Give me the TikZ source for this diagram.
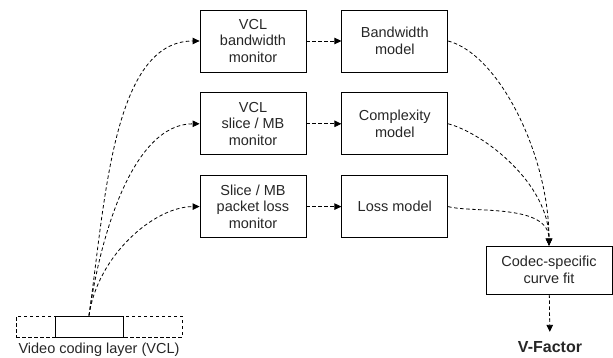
\documentclass[tikz,border=0pt]{standalone}
\usepackage{fontspec}
\setmainfont{Liberation Sans}
\usetikzlibrary{arrows.meta,positioning}

\begin{document}
\begin{tikzpicture}[
  x=1pt, y=1pt,
  node distance=20pt and 35pt,
  box/.style={draw, line width=0.8pt, align=center, minimum width=106pt, minimum height=62pt, inner sep=0pt, font=\fontsize{14.5}{16.5}\selectfont, text=black!85},
  flow/.style={dashed, dash pattern=on 3.5pt off 2.5pt, line width=0.8pt, -{Triangle[length=7pt,width=6.5pt]}},
  up/.style={out=82, in=180, in looseness=0.75},
  down/.style={out=-15, in=90, out looseness=0.6}
]
\useasboundingbox (0,0) rectangle (613,-358);

% monitors and models
\node[box] (bwmon) at (253,-41) {VCL\\bandwidth\\monitor};
\node[box, below=of bwmon] (mbmon) {VCL\\slice / MB\\monitor};
\node[box, below=of mbmon] (lossmon) {Slice / MB\\packet loss\\monitor};
\node[box, right=of bwmon] (bwmod) {Bandwidth\\model};
\node[box, right=of mbmon] (cxmod) {Complexity\\model};
\node[box, right=of lossmon] (lossmod) {Loss model};
\node[box, minimum width=126pt, minimum height=48pt] (fit) at (549,-270) {Codec-specific\\curve fit};
\node[font=\fontsize{16}{18}\selectfont\bfseries, text=black!85] (vf) at (550,-347) {V-Factor};

% video coding layer
\node[draw, dashed, dash pattern=on 3.5pt off 2.5pt, line width=0.8pt, minimum width=166pt, minimum height=21pt, inner sep=0pt] (vcl) at (99,-326.5) {};
\node[draw, line width=0.8pt, minimum width=68pt, minimum height=21pt, inner sep=0pt] (vclin) at (89,-326.5) {};
\node[font=\fontsize{14.5}{16.5}\selectfont, text=black!85] (vcllab) at (99,-350) {Video coding layer (VCL)};

\draw[flow] (vclin.north) to[up] (bwmon.west);
\draw[flow] (vclin.north) to[up] (mbmon.west);
\draw[flow] (vclin.north) to[up] (lossmon.west);

\draw[flow] (bwmon) -- (bwmod);
\draw[flow] (mbmon) -- (cxmod);
\draw[flow] (lossmon) -- (lossmod);

\draw[flow] (bwmod.east) to[down] (fit.north);
\draw[flow] (cxmod.east) to[down] (fit.north);
\draw[flow] (lossmod.east) to[down] (fit.north);

\draw[flow, shorten >=6pt] (fit) -- (vf);
\end{tikzpicture}
\end{document}
